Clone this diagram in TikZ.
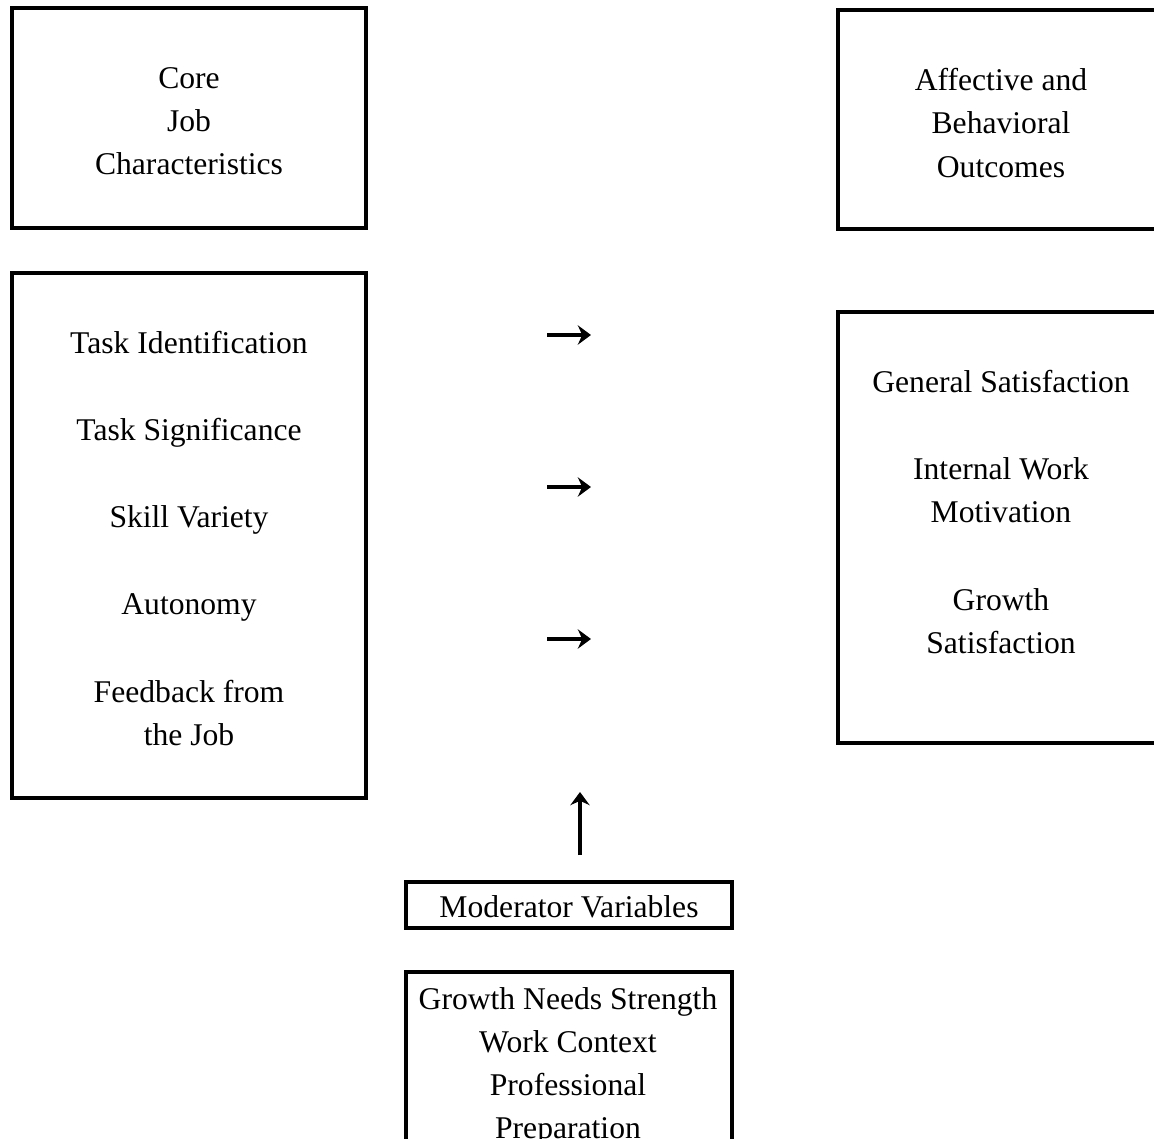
\documentclass[tikz,border=0pt]{standalone}
\usepackage{fontspec}
\setmainfont{Liberation Serif}
\usepackage{tikz}
\usetikzlibrary{arrows.meta, positioning}
\tikzstyle{box} = [draw, rectangle, line width=2pt, inner sep=0pt]
\tikzstyle{txt} = [align=center, inner sep=0pt, font=\fontsize{18}{24.5}\selectfont]
\tikzstyle{arrow} = [line width=2.2pt, -{Stealth[length=7.5pt, width=11pt, inset=2.5pt]}]

\begin{document}
\begin{tikzpicture}[x=0.02cm, y=-0.02cm]
  \clip (0,0) rectangle (1154,1139);

  % Draw the job characteristics boxes
  \node[box, minimum width=7.08cm, minimum height=4.4cm] (coretop) at (189,118) {};
  \node[txt] (corehead) at (189,121) {Core\\Job\\Characteristics};
  \node[box, minimum width=7.08cm, minimum height=10.5cm] (corebox) at (189,535.5) {};
  \node[txt] (corelist) at (189,538.5) {Task Identification\\[0.88cm]
    Task Significance\\[0.88cm] Skill Variety\\[0.88cm] Autonomy\\[0.88cm]
    Feedback from\\the Job};

  % Draw the outcome boxes
  \node[box, minimum width=6.52cm, minimum height=4.38cm] (outtop) at (1001,119.5) {};
  \node[txt] (outhead) at (1001,123) {Affective and\\Behavioral\\Outcomes};
  \node[box, minimum width=6.52cm, minimum height=8.62cm] (outbox) at (1001,527.5) {};
  \node[txt] (outlist) at (1001,512) {General Satisfaction\\[0.88cm]
    Internal Work\\Motivation\\[0.88cm] Growth\\Satisfaction};

  % Draw the moderator boxes
  \node[box, minimum width=6.52cm, minimum height=0.92cm] (modtop) at (569,905) {};
  \node[txt] (modhead) at (569,907) {Moderator Variables};
  \node[box, minimum width=6.52cm, minimum height=5.12cm] (modbox) at (569,1100) {};
  \node[txt] (modlist) at (568,1066) {Growth Needs Strength\\Work Context\\
    Professional\\Preparation};

  % Draw the arrows
  \coordinate (a1) at (547,335);
  \coordinate (b1) at (591,335);
  \coordinate (a2) at (547,487);
  \coordinate (b2) at (591,487);
  \coordinate (a3) at (547,639);
  \coordinate (b3) at (591,639);
  \coordinate (up1) at (580,855);
  \coordinate (up2) at (580,792);
  \draw[arrow] (a1) -- (b1);
  \draw[arrow] (a2) -- (b2);
  \draw[arrow] (a3) -- (b3);
  \draw[arrow, line width=1.8pt] (up1) -- (up2);
\end{tikzpicture}
\end{document}
